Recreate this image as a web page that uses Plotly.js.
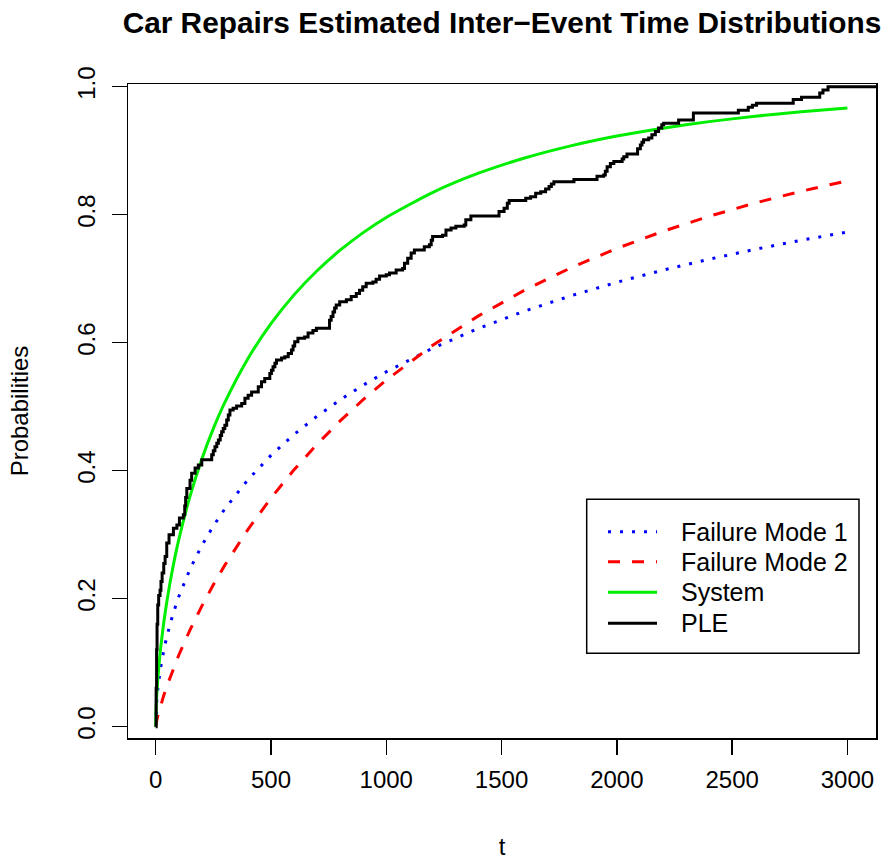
<!DOCTYPE html>
<html>
<head>
<meta charset="utf-8">
<script src="https://cdn.plot.ly/plotly-3.0.1.min.js"></script>
<style>
  html, body { margin: 0; padding: 0; background: #ffffff; }
  #chart { width: 886px; height: 860px; }
</style>
</head>
<body>
<div id="chart"></div>
<script>
// ---- data ----
const tGrid = [0, 1, 2, 5, 10, 20, 35, 50, 75, 100, 150, 200, 250, 300, 400, 500, 600, 700, 800, 900, 1000, 1200, 1400, 1600, 1800, 2000, 2200, 2400, 2600, 2800, 3000];
const fm1Prob = [0, 0.0177, 0.0258, 0.0425, 0.0617, 0.0891, 0.1193, 0.1433, 0.1760, 0.2030, 0.2471, 0.2829, 0.3135, 0.3403, 0.3858, 0.4239, 0.4566, 0.4852, 0.5107, 0.5337, 0.5545, 0.5911, 0.6223, 0.6494, 0.6732, 0.6944, 0.7134, 0.7304, 0.7459, 0.7601, 0.7730];
const fm2Prob = [0, 0.0027, 0.0048, 0.0101, 0.0178, 0.0312, 0.0488, 0.0648, 0.0892, 0.1116, 0.1520, 0.1883, 0.2216, 0.2524, 0.3080, 0.3572, 0.4014, 0.4413, 0.4777, 0.5110, 0.5415, 0.5956, 0.6419, 0.6820, 0.7169, 0.7473, 0.7740, 0.7975, 0.8183, 0.8367, 0.8530];
const systemProb = [0, 0.0204, 0.0305, 0.0522, 0.0783, 0.1175, 0.1623, 0.1989, 0.2495, 0.2919, 0.3615, 0.4180, 0.4657, 0.5068, 0.5750, 0.6297, 0.6747, 0.7124, 0.7445, 0.7720, 0.7957, 0.8346, 0.8648, 0.8885, 0.9075, 0.9228, 0.9352, 0.9454, 0.9538, 0.9608, 0.9666];

const pleTime = [0, 2, 4, 6, 9, 13, 19, 23, 28, 35,
  41, 48, 58, 77, 92, 103, 120, 126, 130, 135,
  149, 156, 171, 185, 200, 243, 250, 257, 265, 272,
  280, 286, 293, 300, 308, 315, 322, 336, 351, 373,
  387, 401, 416, 445, 459, 473, 495, 502, 509, 517,
  524, 546, 560, 575, 589, 596, 603, 617, 646, 661,
  682, 697, 754, 761, 769, 776, 783, 798, 827, 848,
  870, 884, 898, 913, 942, 956, 971, 1000, 1014, 1043,
  1071, 1079, 1093, 1108, 1122, 1165, 1187, 1195, 1201, 1244,
  1259, 1281, 1302, 1338, 1345, 1367, 1489, 1511, 1525, 1533,
  1605, 1626, 1648, 1670, 1691, 1706, 1716, 1727, 1814, 1914,
  1943, 1950, 1958, 1972, 1987, 2023, 2030, 2044, 2090, 2102,
  2109, 2116, 2138, 2152, 2167, 2181, 2195, 2203, 2268, 2332,
  2527, 2570, 2588, 2606, 2765, 2801, 2880, 2894, 2916, 3130];
const pleProb = [0, 0.06, 0.12, 0.16, 0.19, 0.205, 0.213, 0.227, 0.240, 0.255,
  0.266, 0.287, 0.300, 0.310, 0.315, 0.326, 0.331, 0.345, 0.358, 0.372,
  0.385, 0.396, 0.404, 0.409, 0.417, 0.425, 0.431, 0.4375, 0.443, 0.448,
  0.455, 0.461, 0.466, 0.471, 0.479, 0.487, 0.495, 0.4975, 0.501, 0.505,
  0.513, 0.518, 0.523, 0.531, 0.539, 0.544, 0.552, 0.557, 0.5625, 0.568,
  0.573, 0.576, 0.578, 0.583, 0.5886, 0.595, 0.6016, 0.607, 0.609, 0.615,
  0.619, 0.6225, 0.635, 0.641, 0.648, 0.654, 0.659, 0.664, 0.667, 0.672,
  0.677, 0.682, 0.6875, 0.693, 0.695, 0.699, 0.704, 0.706, 0.709, 0.7136,
  0.716, 0.724, 0.732, 0.740, 0.745, 0.750, 0.753, 0.760, 0.766, 0.768,
  0.776, 0.779, 0.782, 0.784, 0.792, 0.798, 0.805, 0.810, 0.818, 0.822,
  0.8255, 0.828, 0.8335, 0.836, 0.840, 0.844, 0.848, 0.8516, 0.855, 0.860,
  0.862, 0.868, 0.875, 0.880, 0.883, 0.887, 0.8906, 0.895, 0.903, 0.909,
  0.913, 0.917, 0.920, 0.925, 0.930, 0.9355, 0.9406, 0.943, 0.948, 0.959,
  0.963, 0.968, 0.971, 0.974, 0.980, 0.9835, 0.990, 0.995, 1.0, 1.0];

const xTickVals = [0, 500, 1000, 1500, 2000, 2500, 3000];
const yTickVals = [0, 0.2, 0.4, 0.6, 0.8, 1.0];
const seriesNames = ["Failure Mode 1", "Failure Mode 2", "System", "PLE"];
const seriesColors = ["#0000ff", "#ff0000", "#00ee00", "#000000"];
const seriesDash = ["3px,9px", "12px,12px", "solid", "solid"];

// ---- chart ----
const FONT = "Liberation Sans, Arial, Helvetica, sans-serif";
const W = 886, H = 860;
const M = { l: 128, r: 10, t: 84, b: 122 };
const plotW = W - M.l - M.r, plotH = H - M.t - M.b;
const px = x => (x - M.l) / plotW;         // page pixel -> paper x
const py = y => (H - M.b - y) / plotH;     // page pixel -> paper y

const traces = [
  { x: tGrid, y: fm1Prob, name: seriesNames[0], mode: "lines",
    line: { color: seriesColors[0], width: 3, dash: seriesDash[0] } },
  { x: tGrid, y: fm2Prob, name: seriesNames[1], mode: "lines",
    line: { color: seriesColors[1], width: 3, dash: seriesDash[1] } },
  { x: tGrid, y: systemProb, name: seriesNames[2], mode: "lines",
    line: { color: seriesColors[2], width: 3, shape: "spline", smoothing: 0.6 } },
  { x: pleTime, y: pleProb, name: seriesNames[3], mode: "lines",
    line: { color: seriesColors[3], width: 3, shape: "hv" } }
];

// legend box drawn like R's legend()
const legendRows = [531.7, 561.7, 592.3, 623.3];
const shapes = [{
  type: "rect", xref: "paper", yref: "paper",
  x0: px(586.7), x1: px(859), y0: py(653.3), y1: py(499.3),
  line: { color: "#000000", width: 1.5 }, fillcolor: "#ffffff", layer: "above"
}];
const annotations = [];
seriesNames.forEach((nm, i) => {
  shapes.push({
    type: "line", xref: "paper", yref: "paper",
    x0: px(608), x1: px(657), y0: py(legendRows[i]), y1: py(legendRows[i]),
    line: { color: seriesColors[i], width: 3, dash: seriesDash[i] }, layer: "above"
  });
  annotations.push({
    xref: "paper", yref: "paper", x: px(679), y: py(legendRows[i]),
    xanchor: "left", yanchor: "middle", showarrow: false, text: nm,
    font: { family: FONT, size: 25, color: "#000000" }
  });
});

const layout = {
  width: W, height: H,
  margin: M,
  paper_bgcolor: "#ffffff", plot_bgcolor: "#ffffff",
  showlegend: false,
  font: { family: FONT, size: 24, color: "#000000" },
  title: {
    text: "Car Repairs Estimated Inter\u2212Event Time Distributions",
    font: { family: FONT, size: 29.8, color: "#000000", weight: "bold" },
    xref: "paper", x: 0.5, xanchor: "center",
    yref: "container", y: 1 - 23 / H, yanchor: "middle"
  },
  xaxis: {
    range: [-120, 3124], autorange: false,
    tickvals: xTickVals, ticktext: xTickVals.map(String),
    ticks: "outside", ticklen: 15, tickwidth: 1.5, tickcolor: "#000000",
    showline: true, linecolor: "#000000", linewidth: 1.5, mirror: true,
    showgrid: false, zeroline: false,
    tickfont: { family: FONT, size: 24, color: "#000000" },
    ticklabelstandoff: 5,
    title: { text: "t", font: { family: FONT, size: 24, color: "#000000" }, standoff: 47 },
    automargin: false
  },
  yaxis: {
    range: [-0.0177, 1.0042], autorange: false,
    tickvals: yTickVals, ticktext: yTickVals.map(v => v.toFixed(1)),
    tickangle: -90,
    ticks: "outside", ticklen: 15, tickwidth: 1.5, tickcolor: "#000000",
    showline: true, linecolor: "#000000", linewidth: 1.5, mirror: true,
    showgrid: false, zeroline: false,
    tickfont: { family: FONT, size: 24, color: "#000000" },
    ticklabelstandoff: 7,
    title: { text: "Probabilities", font: { family: FONT, size: 24, color: "#000000" }, standoff: 37 },
    automargin: false
  },
  shapes: shapes,
  annotations: annotations
};

Plotly.newPlot("chart", traces, layout, { displayModeBar: false, staticPlot: true });
</script>
</body>
</html>
